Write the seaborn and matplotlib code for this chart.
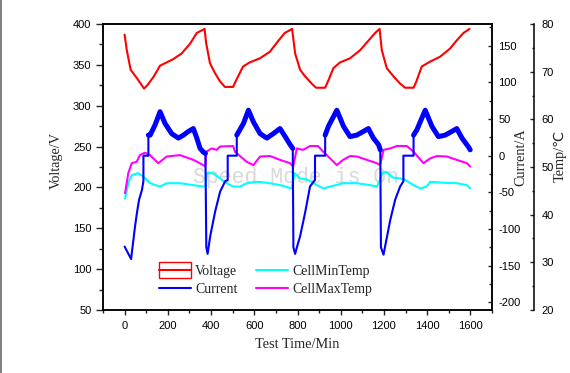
import numpy as np
import pandas as pd
import matplotlib
matplotlib.use("Agg")
import matplotlib.pyplot as plt
import seaborn as sns
from matplotlib.ticker import MultipleLocator
from matplotlib.legend_handler import HandlerLine2D
from matplotlib.patches import Rectangle

# ---------------- data ----------------
voltage_time = [0, 10, 28, 56, 90, 105, 133, 164, 225, 264,
                303, 334, 370, 377, 395, 418, 441, 464, 502, 514,
                548, 579, 626, 672, 710, 741, 775, 789, 812, 835,
                866, 886, 928, 943, 966, 997, 1043, 1090, 1136, 1159,
                1180, 1190, 1213, 1244, 1275, 1298, 1337, 1349, 1375, 1414,
                1460, 1506, 1537, 1568, 1596]
voltage_values = [387, 368, 344, 334, 321, 325, 335, 349, 357, 364,
                  376, 389, 394, 377, 352, 340, 330, 323, 323, 330,
                  348, 353, 358, 366, 379, 389, 394, 364, 344, 336,
                  327, 322, 322, 331, 346, 353, 358, 368, 382, 389,
                  394, 368, 346, 336, 327, 322, 322, 329, 348, 354,
                  360, 370, 380, 389, 394]

current_time = [0, 30, 39, 48, 57, 67, 80, 87, 87, 110,
                110, 118, 141, 164, 187, 218, 249, 272, 295, 318,
                334, 349, 364, 374, 378, 384, 396, 419, 442, 465,
                477, 477, 519, 519, 550, 573, 596, 627, 658, 688,
                719, 743, 766, 778, 781, 789, 800, 812, 835, 858,
                881, 881, 928, 928, 943, 982, 1013, 1043, 1074, 1105,
                1128, 1151, 1175, 1183, 1186, 1198, 1229, 1252, 1275, 1290,
                1290, 1337, 1337, 1352, 1391, 1422, 1452, 1483, 1514, 1537,
                1561, 1591, 1599]
current_values = [-124, -141, -119, -97, -78, -60, -47, -35, 0, 0,
                  28, 28, 42, 60, 44, 30, 24, 28, 33, 37,
                  24, 10, 5, 3, -125, -134, -110, -76, -49, -35,
                  -33, 0, 0, 28, 44, 62, 46, 30, 24, 30,
                  37, 26, 15, 10, -125, -134, -122, -110, -78, -42,
                  -33, 0, 0, 28, 40, 62, 40, 26, 28, 33,
                  37, 24, 15, 8, -125, -135, -88, -60, -42, -35,
                  0, 0, 28, 35, 62, 40, 26, 28, 33, 37,
                  24, 12, 8]

max_temp_time = [2, 17, 33, 56, 71, 94, 117, 156, 195, 256,
                 318, 364, 374, 377, 403, 426, 442, 502, 511, 534,
                 565, 596, 627, 673, 719, 766, 780, 797, 826, 858,
                 895, 919, 951, 982, 1011, 1043, 1075, 1121, 1167, 1182,
                 1198, 1229, 1260, 1306, 1337, 1383, 1414, 1445, 1491, 1537,
                 1584, 1599]
max_temp_values = [44.5, 48.7, 50.8, 51.1, 52.5, 53.0, 52.5, 50.8, 52.2, 52.5,
                   51.5, 50.4, 50.1, 53.2, 53.9, 53.6, 54.3, 54.4, 53.2, 52.3,
                   51.1, 50.4, 52.2, 52.3, 51.5, 50.8, 50.1, 53.9, 53.6, 54.4,
                   54.4, 53.2, 51.8, 50.4, 51.5, 52.3, 52.2, 51.5, 50.8, 50.4,
                   53.6, 53.9, 54.4, 54.4, 53.2, 50.8, 51.8, 52.3, 52.2, 51.5,
                   50.8, 50.1]

min_temp_time = [2, 17, 33, 63, 87, 118, 164, 195, 256, 318,
                 364, 374, 380, 409, 442, 473, 502, 534, 565, 611,
                 658, 719, 773, 787, 812, 843, 890, 920, 951, 1013,
                 1075, 1136, 1167, 1182, 1192, 1210, 1240, 1275, 1298, 1337,
                 1368, 1398, 1414, 1475, 1537, 1584, 1599]
min_temp_values = [43.4, 46.6, 48.3, 48.7, 48.0, 46.6, 45.9, 46.6, 46.6, 46.2,
                   45.9, 45.9, 48.7, 48.7, 47.6, 46.6, 45.9, 45.9, 46.6, 46.9,
                   46.7, 46.2, 45.5, 48.7, 47.6, 47.4, 46.2, 45.5, 45.9, 46.6,
                   46.6, 46.2, 45.9, 47.3, 48.7, 49.0, 47.8, 47.6, 47.3, 46.2,
                   45.5, 45.9, 46.9, 46.7, 46.6, 46.2, 45.5]

series_labels = ["Voltage", "Current", "CellMinTemp", "CellMaxTemp"]
series_colors = ["#FF0000", "#0000FF", "#00FFFF", "#FF00FF"]

# ---------------- style ----------------
sns.set_style("ticks")
plt.rcParams["font.family"] = ["Liberation Sans", "DejaVu Sans"]
plt.rcParams["axes.unicode_minus"] = False
SERIF = ["Liberation Serif", "DejaVu Sans"]
TICK_FS = 8
LABEL_FS = 10.3

W, H = 570, 373
fig = plt.figure(figsize=(W / 100, H / 100), dpi=100)
fig.patch.set_facecolor("white")
ax = fig.add_axes([103 / W, (H - 310) / H, 389 / W, 286 / H])
ax2 = ax.twinx()
ax3 = ax.twinx()

# ---------------- lines ----------------
sns.lineplot(x=voltage_time, y=voltage_values, ax=ax, color=series_colors[0],
             lw=1.5, estimator=None, sort=False, legend=False)
v_line = ax.lines[-1]

cur_df = pd.DataFrame({"t": current_time, "I": current_values})
sns.lineplot(data=cur_df, x="t", y="I", ax=ax2, color=series_colors[1],
             lw=1.5, estimator=None, sort=False, legend=False)
c_line = ax2.lines[-1]
# noisy (thick) charging band
charging = cur_df["I"] > 1
cur_df["phase"] = (charging != charging.shift()).cumsum()
sns.lineplot(data=cur_df[charging], x="t", y="I", units="phase", ax=ax2,
             color=series_colors[1], lw=3.6, estimator=None, sort=False,
             legend=False)

sns.lineplot(x=min_temp_time, y=min_temp_values, ax=ax3, color=series_colors[2],
             lw=1.5, estimator=None, sort=False, legend=False)
mn_line = ax3.lines[-1]
sns.lineplot(x=max_temp_time, y=max_temp_values, ax=ax3, color=series_colors[3],
             lw=1.5, estimator=None, sort=False, legend=False)
mx_line = ax3.lines[-1]

# ---------------- axes ----------------
ax.set_xlim(-100, 1700)
ax.set_ylim(50, 400)
ax2.set_ylim(-210.5, 179.6)
ax3.set_ylim(20, 80)

ax.xaxis.set_major_locator(MultipleLocator(200))
ax.xaxis.set_minor_locator(MultipleLocator(100))
ax.yaxis.set_major_locator(MultipleLocator(50))
ax.yaxis.set_minor_locator(MultipleLocator(25))
ax2.yaxis.set_major_locator(MultipleLocator(50))
ax2.yaxis.set_minor_locator(MultipleLocator(25))
ax3.yaxis.set_major_locator(MultipleLocator(10))
ax3.yaxis.set_minor_locator(MultipleLocator(5))

ax.tick_params(axis="x", which="major", direction="out", length=3.6, width=1.0,
               labelsize=TICK_FS, pad=4, top=False)
ax.tick_params(axis="x", which="minor", direction="out", length=2.4, width=1.0, top=False)
ax.tick_params(axis="y", which="major", direction="out", length=4.8, width=1.0,
               labelsize=TICK_FS, pad=3.5, right=False)
ax.tick_params(axis="y", which="minor", direction="out", length=2.9, width=1.0, right=False)
ax2.tick_params(axis="y", which="major", direction="in", length=3.2, width=1.0,
                labelsize=TICK_FS, pad=4.5)
ax2.tick_params(axis="y", which="minor", direction="in", length=2.2, width=1.0)
ax3.tick_params(axis="y", which="major", direction="in", length=2.6, width=1.0,
                labelsize=TICK_FS, pad=5.5)
ax3.tick_params(axis="y", which="minor", direction="in", length=1.8, width=1.0)

for a in (ax, ax2):
    for s in a.spines.values():
        s.set_linewidth(1.1)
        s.set_color("black")
for side in ("left", "top", "bottom"):
    ax3.spines[side].set_visible(False)
ax3.spines["right"].set_position(("axes", 431 / 389))
ax3.spines["right"].set_linewidth(1.1)
ax3.spines["right"].set_color("black")

for a in (ax, ax2, ax3):
    for lab in a.get_xticklabels() + a.get_yticklabels():
        lab.set_color("black")

ax.set_xlabel("Test Time/Min", fontsize=LABEL_FS, family=SERIF, va="center")
ax.xaxis.set_label_coords(0.499, -0.122)
ax.set_ylabel("Voltage/V", fontsize=LABEL_FS, family=SERIF, va="center")
ax.yaxis.set_label_coords(-0.121, 0.524)
ax2.set_ylabel("Current/A", fontsize=LABEL_FS, family=SERIF, va="center")
ax2.yaxis.set_label_coords(1.0746, 0.535)
ax3.set_ylabel("Temp/\u2103", fontsize=LABEL_FS, family=SERIF, va="center")
ax3.yaxis.set_label_coords(1.175, 0.54)

# draw current above temperatures
ax2.set_zorder(ax3.get_zorder() + 1)
ax2.patch.set_visible(False)
ax3.patch.set_visible(False)

# watermark
ax.text(0.497, 0.465, "Speed Mode is On", transform=ax.transAxes, ha="center",
        va="center", fontsize=15.5, family=["Liberation Mono", "DejaVu Sans Mono"],
        color="#d8d8d8", zorder=0.5)


# ---------------- legend ----------------
class BoxedLine(HandlerLine2D):
    def create_artists(self, legend, orig_handle, xdescent, ydescent, width,
                       height, fontsize, trans):
        arts = super().create_artists(legend, orig_handle, xdescent, ydescent,
                                      width, height, fontsize, trans)
        rect = Rectangle((-xdescent, -ydescent - 0.33 * height), width,
                         1.66 * height, fill=False, edgecolor="#FF0000",
                         lw=1.0, transform=trans)
        return [rect] + list(arts)


handles = [v_line, c_line, mn_line, mx_line]
fig.legend(handles, series_labels, ncol=2, frameon=False, loc="upper left",
           bbox_to_anchor=(159 / W, 1 - 264.5 / H), bbox_transform=fig.transFigure,
           handlelength=2.3, handletextpad=0.29, columnspacing=1.37,
           labelspacing=0.37, borderpad=0, borderaxespad=0,
           prop={"family": SERIF, "size": 10},
           handler_map={v_line: BoxedLine()})

# left gray window border
fig.add_artist(Rectangle((0, 0), 2 / W, 1, transform=fig.transFigure,
                         color="#808080", lw=0))

fig.savefig("out.png", dpi=100)
